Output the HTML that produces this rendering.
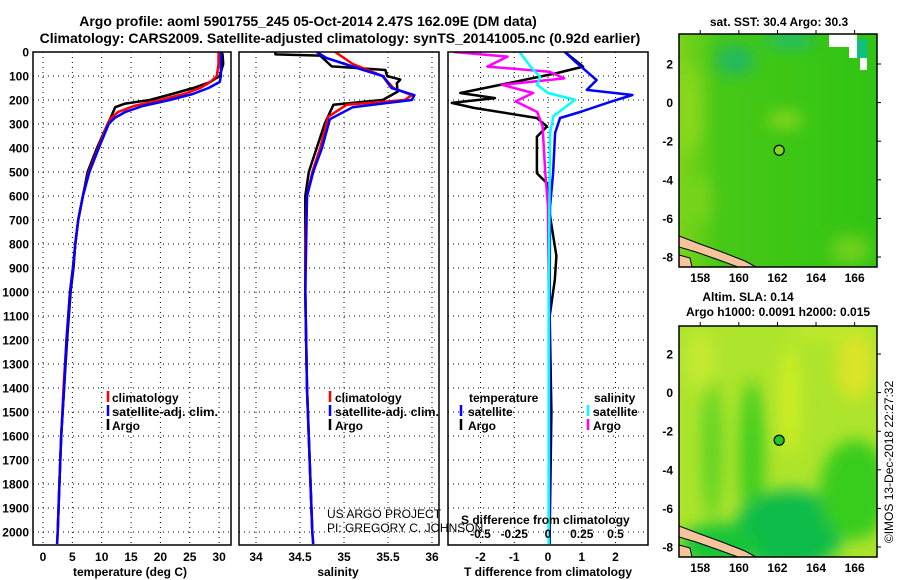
<!DOCTYPE html>
<html><head><meta charset="utf-8">
<style>
html,body{margin:0;padding:0;background:#fff;}
svg{display:block;font-family:"Liberation Sans",sans-serif;}
.b{font-weight:bold;font-size:12px;}
</style></head>
<body>
<svg id="chart" width="900" height="580" viewBox="0 0 900 580" xmlns="http://www.w3.org/2000/svg">
<defs>
<clipPath id="c1"><rect x="33" y="52" width="198" height="493"/></clipPath>
<clipPath id="c2"><rect x="239" y="52" width="200" height="493"/></clipPath>
<clipPath id="c3"><rect x="448" y="52" width="200" height="493"/></clipPath>
<clipPath id="cm1"><rect x="679" y="34" width="198" height="233"/></clipPath>
<clipPath id="cm2"><rect x="679" y="326" width="198" height="231"/></clipPath>
<linearGradient id="gTop" x1="0" y1="0" x2="1" y2="0">
<stop offset="0" stop-color="#7cd41a"/><stop offset="0.2" stop-color="#48c816"/><stop offset="1" stop-color="#30c414"/></linearGradient>
<filter id="blur"><feGaussianBlur stdDeviation="8"/></filter>
</defs>
<g id="titles">
<text x="308" y="26" text-anchor="middle" style="font-weight:bold;font-size:14px">Argo profile: aoml 5901755_245 05-Oct-2014 2.47S 162.09E (DM data)</text>
<text x="340" y="43" text-anchor="middle" style="font-weight:bold;font-size:14px">Climatology: CARS2009. Satellite-adjusted climatology: synTS_20141005.nc (0.92d earlier)</text>
</g>
<g id="grid"></g>
<g id="series"></g>
<g id="frames"></g>
<g id="labels"></g>
<g id="maps"></g>
</svg>
<script>
// ---- data ----
const depthT = [0,50,100,125,150,175,200,225,250,275,300,400,500,600,700,800,900,1000,1200,1400,1600,1800,2000,2050];
const tempClim = [29.9,29.9,29.6,28.5,26.8,24,20,15.5,12.8,11.6,11,9.4,7.8,6.8,6,5.5,5.1,4.6,4,3.5,3.1,2.8,2.5,2.4];
const tempSat  = [30.3,30.3,30.3,30.1,28.2,25.5,21.6,17,14,12.2,11.2,9.5,7.9,6.8,6,5.5,5.1,4.6,4,3.6,3.1,2.8,2.5,2.4];
const depthTA = [0,10,50,100,125,150,175,200,215,230,275,300,400,500,600,700,800,900,1000,1200,1400,1600,1800,2000];
const tempArgo = [30.3,30.6,30.7,30.1,28.5,25.6,22,18.2,14,12.3,11.5,11,9.2,7.6,6.8,6,5.5,5.2,4.7,4.1,3.6,3.1,2.8,2.5];

const depthSC = [0,50,100,150,180,200,220,270,400,500,600,800,1000,1400,2000,2050];
const salClim = [34.9,35.1,35.44,35.56,35.77,35.69,35.03,34.82,34.73,34.64,34.58,34.56,34.56,34.58,34.64,34.65];
const depthSS = [0,25,75,100,150,180,200,230,280,400,500,600,1000,1400,2000,2050];
const salSat  = [34.69,34.8,35.22,35.44,35.54,35.8,35.77,35.1,34.84,34.75,34.65,34.58,34.56,34.58,34.64,34.65];
const depthSA = [0,10,15,60,75,100,115,130,165,200,220,300,400,500,600,1000,1400,2000];
const salArgo = [34.22,34.22,34.73,34.86,35.47,35.49,35.64,35.6,35.61,35.44,34.88,34.78,34.69,34.6,34.56,34.56,34.58,34.64];

const depthDTA = [0,61,88,137,171,192,212,233,275,310,353,505,547,630,850,950,1100,1500,2000];
const dTArgo = [0.5,1.04,0.26,-1.42,-2.6,-1.57,-2.85,-2.2,-0.33,-0.03,-0.33,-0.33,-0.03,0,0.25,0.2,0.05,0.1,0.05];
const depthDTS = [0,33,117,158,179,208,250,275,337,505,645,1000,2000,2050];
const dTSat = [0.5,0.75,1.44,1.15,2.5,1.84,0.95,0.36,0.21,0.15,0.06,0.05,0.05,0.05];
const depthDSA = [0,19,61,82,110,137,171,206,250,310,505,645,1000,2000];
const dSArgo = [-0.7,-0.3,-0.45,0.01,0.12,-0.34,-0.11,-0.24,-0.08,-0.04,-0.02,0,0.005,0.005];
const depthDSS = [0,61,103,137,171,199,268,338,1000,2000,2050];
const dSSat = [-0.21,-0.13,-0.06,-0.08,0,0.2,0.04,0.015,0.005,0.005,0.005];

const depthTicks = [0,100,200,300,400,500,600,700,800,900,1000,1100,1200,1300,1400,1500,1600,1700,1800,1900,2000];
const tempTicks = [0,5,10,15,20,25,30];
const salTicks = [34,34.5,35,35.5,36];
const salTickLabels = ["34","34.5","35","35.5","36"];
const dTTicks = [-2,-1,0,1,2];
const dSTicks = [-0.5,-0.25,0,0.25,0.5];
const dSTickLabels = ["-0.5","-0.25","0","0.25","0.5"];
const latTicks = [2,0,-2,-4,-6,-8];
const lonTicks = [158,160,162,164,166];
const floatLon = 162.09, floatLat = -2.47;

// ---- scales ----
const yD = d => 52 + 0.24*d;
const xT = t => 43 + 5.87*t;
const xS = s => 256 + 88*(s-34);
const xDT = v => 548 + 33.75*v;
const xDS = v => 548 + 135*v;
const mx = lon => 679 + (lon-156.9)*19.3;
const my1 = lat => 64 + (2-lat)*19.3;
const my2 = lat => 354 + (2-lat)*19.3;

const NS = "http://www.w3.org/2000/svg";
function mk(tag, attrs, parent){
  const e = document.createElementNS(NS, tag);
  for (const k in attrs) e.setAttribute(k, attrs[k]);
  parent.appendChild(e);
  return e;
}
const G = id => document.getElementById(id);
const grid = G('grid'), series = G('series'), frames = G('frames'), labels = G('labels'), maps = G('maps');

const panels = [[33,231],[239,439],[448,648]];
depthTicks.forEach(d => {
  panels.forEach(p => {
    const l = mk('line',{x1:p[0],x2:p[1],y1:yD(d),y2:yD(d),stroke:'#000','stroke-width':1,'stroke-dasharray':'1,4'},grid);
    
    
  });
  const t = mk('text',{x:29,y:yD(d)+4.5,'text-anchor':'end',class:'b'},labels);
  t.textContent = d;
  
  
});
function vgrid(ticks, sc, texts, y, name){
  ticks.forEach((v,i) => {
    const l = mk('line',{x1:sc(v),x2:sc(v),y1:52,y2:545,stroke:'#000','stroke-width':1,'stroke-dasharray':'1,4'},grid);
    
    
    if (texts){
      const t = mk('text',{x:sc(v),y:y,'text-anchor':'middle',class:'b'},labels);
      t.textContent = texts[i];
      
      
    }
  });
}
vgrid(tempTicks, xT, tempTicks.map(String), 561, 'temperature');
vgrid(salTicks, xS, salTickLabels, 561, 'salinity');
vgrid(dTTicks, xDT, dTTicks.map(String), 561, 'tdiff');
dSTicks.forEach((v,i)=>{
  const t = mk('text',{x:xDS(v),y:538,'text-anchor':'middle',class:'b'},labels);
  t.textContent = dSTickLabels[i];
  
  
});

function poly(xs, ds, sx, color, clip, name, w){
  const pts = xs.map((v,i)=> sx(v).toFixed(1)+','+yD(ds[i]).toFixed(1)).join(' ');
  const p = mk('polyline',{points:pts,fill:'none',stroke:color,'stroke-width':w||2.5,'clip-path':'url(#'+clip+')','stroke-linejoin':'round'},series);
  
  
}
poly(tempArgo, depthTA, xT, '#000', 'c1', 'temperature-argo-line');
poly(tempClim, depthT, xT, '#f00', 'c1', 'temperature-climatology-line');
poly(tempSat, depthT, xT, '#00f', 'c1', 'temperature-satellite-line');
poly(salArgo, depthSA, xS, '#000', 'c2', 'salinity-argo-line');
poly(salClim, depthSC, xS, '#f00', 'c2', 'salinity-climatology-line');
poly(salSat, depthSS, xS, '#00f', 'c2', 'salinity-satellite-line');
poly(dTArgo, depthDTA, xDT, '#000', 'c3', 'tdiff-argo-line');
poly(dTSat, depthDTS, xDT, '#00f', 'c3', 'tdiff-satellite-line');
poly(dSArgo, depthDSA, xDS, '#f0f', 'c3', 'sdiff-argo-line');
poly(dSSat, depthDSS, xDS, '#0ff', 'c3', 'sdiff-satellite-line');

panels.forEach((p,i)=>{
  const r = mk('rect',{x:p[0],y:52,width:p[1]-p[0],height:493,fill:'none',stroke:'#000','stroke-width':1.5},frames);
  
  
});

function txt(x,y,s,name,opts){
  const t = mk('text',Object.assign({x:x,y:y,class:'b'},opts||{}),labels);
  t.textContent = s;
  
  
  return t;
}
function mark(x,y,color,name){
  const l = mk('line',{x1:x,x2:x,y1:y-11,y2:y,stroke:color,'stroke-width':2.5},labels);
  
  
}
mark(108,402,'#f00','legend-marker-climatology'); txt(112,402,'climatology','legend-climatology');
mark(108,416,'#00f','legend-marker-satellite'); txt(112,416,'satellite-adj. clim.','legend-satellite',{textLength:106,lengthAdjust:'spacingAndGlyphs'});
mark(108,430,'#000','legend-marker-argo'); txt(112,430,'Argo','legend-argo');
mark(330,402,'#f00','legend2-marker-climatology'); txt(335,402,'climatology','legend2-climatology');
mark(330,416,'#00f','legend2-marker-satellite'); txt(335,416,'satellite-adj. clim.','legend2-satellite',{textLength:104,lengthAdjust:'spacingAndGlyphs'});
mark(330,430,'#000','legend2-marker-argo'); txt(335,430,'Argo','legend2-argo');
txt(469,402,'temperature','legend3-temperature-heading');
txt(594,402,'salinity','legend3-salinity-heading');
mark(461,416,'#00f','legend3-marker-t-satellite'); txt(468,416,'satellite','legend3-t-satellite');
mark(461,430,'#000','legend3-marker-t-argo'); txt(468,430,'Argo','legend3-t-argo');
mark(588,416,'#0ff','legend3-marker-s-satellite'); txt(593,416,'satellite','legend3-s-satellite');
mark(588,430,'#f0f','legend3-marker-s-argo'); txt(593,430,'Argo','legend3-s-argo');
txt(327,518,'US ARGO PROJECT','credit-project',{class:'',style:'font-size:12px'});
txt(327,532,'PI: GREGORY C. JOHNSON','credit-pi',{class:'',style:'font-size:12px'});
txt(461,524,'S difference from climatology','sdiff-axis-title');
txt(130,576,'temperature (deg C)','temperature-axis-title',{'text-anchor':'middle'});
txt(338,576,'salinity','salinity-axis-title',{'text-anchor':'middle'});
txt(548,576,'T difference from climatology','tdiff-axis-title',{'text-anchor':'middle'});

// ---- maps ----
function coast(dy, clip){
  const pts = [[679,236],[700,244],[722,252],[745,261],[756,267],[738,267],[716,259],[696,252],[679,247]];
  const p = mk('polygon',{points:pts.map(q=>q[0]+','+(q[1]+dy)).join(' '),fill:'#f5c49c',stroke:'#000','stroke-width':1,'clip-path':'url(#'+clip+')'},maps);
  
  
  const p2 = mk('polygon',{points:[[679,255],[690,258],[692,267],[679,267]].map(q=>q[0]+','+(q[1]+dy)).join(' '),fill:'#f5c49c',stroke:'#000','stroke-width':1,'clip-path':'url(#'+clip+')'},maps);
  
  
}
let r = mk('rect',{x:679,y:34,width:198,height:233,fill:'url(#gTop)'},maps);


const gT = mk('g',{'clip-path':'url(#cm1)',filter:'url(#blur)'},maps);
[[688,110,12,45,'#8cd81c'],[698,200,12,25,'#78d41c'],[785,120,18,8,'#90da1a'],[850,250,20,15,'#70d01c'],[790,40,25,6,'#18b890'],[735,60,20,15,'#22b860']].forEach(e=>{
  const el = mk('ellipse',{cx:e[0],cy:e[1],rx:e[2],ry:e[3],fill:e[4]},gT);
  
  
});
r = mk('polygon',{points:'829,34 857,34 857,47 860,47 860,58 867,58 867,70 860,70 860,58 849,58 849,47 829,47',fill:'#fff'},maps);


r = mk('rect',{x:857,y:39,width:10,height:19,fill:'#10c080'},maps);


coast(0,'cm1');
r = mk('rect',{x:679,y:326,width:198,height:231,fill:'#ade42c'},maps);


const gB = mk('g',{'clip-path':'url(#cm2)',filter:'url(#blur)'},maps);
[[712,450,10,70,'#5cd420'],[752,460,12,80,'#3ccc1c'],[790,530,55,40,'#10bc48'],[720,545,40,22,'#18c438'],[855,490,35,50,'#38cc1c'],[855,365,18,35,'#dce428'],[790,400,10,55,'#d0ee20'],[700,360,14,30,'#c6ea30'],[830,330,40,12,'#bfe82a']].forEach(e=>{
  const el = mk('ellipse',{cx:e[0],cy:e[1],rx:e[2],ry:e[3],fill:e[4]},gB);
  
  
});
coast(290,'cm2');

[[34,233,my1],[326,231,my2]].forEach((m,k)=>{
  const f = mk('rect',{x:679,y:m[0],width:198,height:m[1],fill:'none',stroke:'#000','stroke-width':1.5},maps);
  
  
  latTicks.forEach(v=>{
    const t = mk('text',{x:673,y:m[2](v)+4.5,'text-anchor':'end',class:'b'},maps);
    t.textContent = v;
    
    
    const tk = mk('line',{x1:877,x2:881,y1:m[2](v),y2:m[2](v),stroke:'#000'},maps);
    
    
  });
  lonTicks.forEach(v=>{
    const t = mk('text',{x:mx(v),y:m[0]+m[1]+15,'text-anchor':'middle',class:'b'},maps);
    t.textContent = v;
    
    
    const tk = mk('line',{x1:mx(v),x2:mx(v),y1:m[0]-4,y2:m[0],stroke:'#000'},maps);
    
    
  });
  const c = mk('circle',{cx:mx(floatLon),cy:m[2](floatLat),r:5,fill:k?'#20c820':'#80d820',stroke:'#000','stroke-width':1.2},maps);
  
  
});
function mt(x,y,s,name,extra){
  const t = mk('text',Object.assign({x:x,y:y,class:'b','text-anchor':'middle'},extra||{}),maps);
  t.textContent = s;
  
  
}
mt(779,26,'sat. SST: 30.4 Argo: 30.3','sst-map-title');
mt(748,301,'Altim. SLA: 0.14','sla-map-title');
mt(778,316,'Argo h1000: 0.0091 h2000: 0.015','sla-map-subtitle');
mt(0,0,'©IMOS 13-Dec-2018 22:27:32','timestamp',{class:'',style:'font-size:12px',transform:'translate(893,462) rotate(-90)'});
</script>
</body></html>
